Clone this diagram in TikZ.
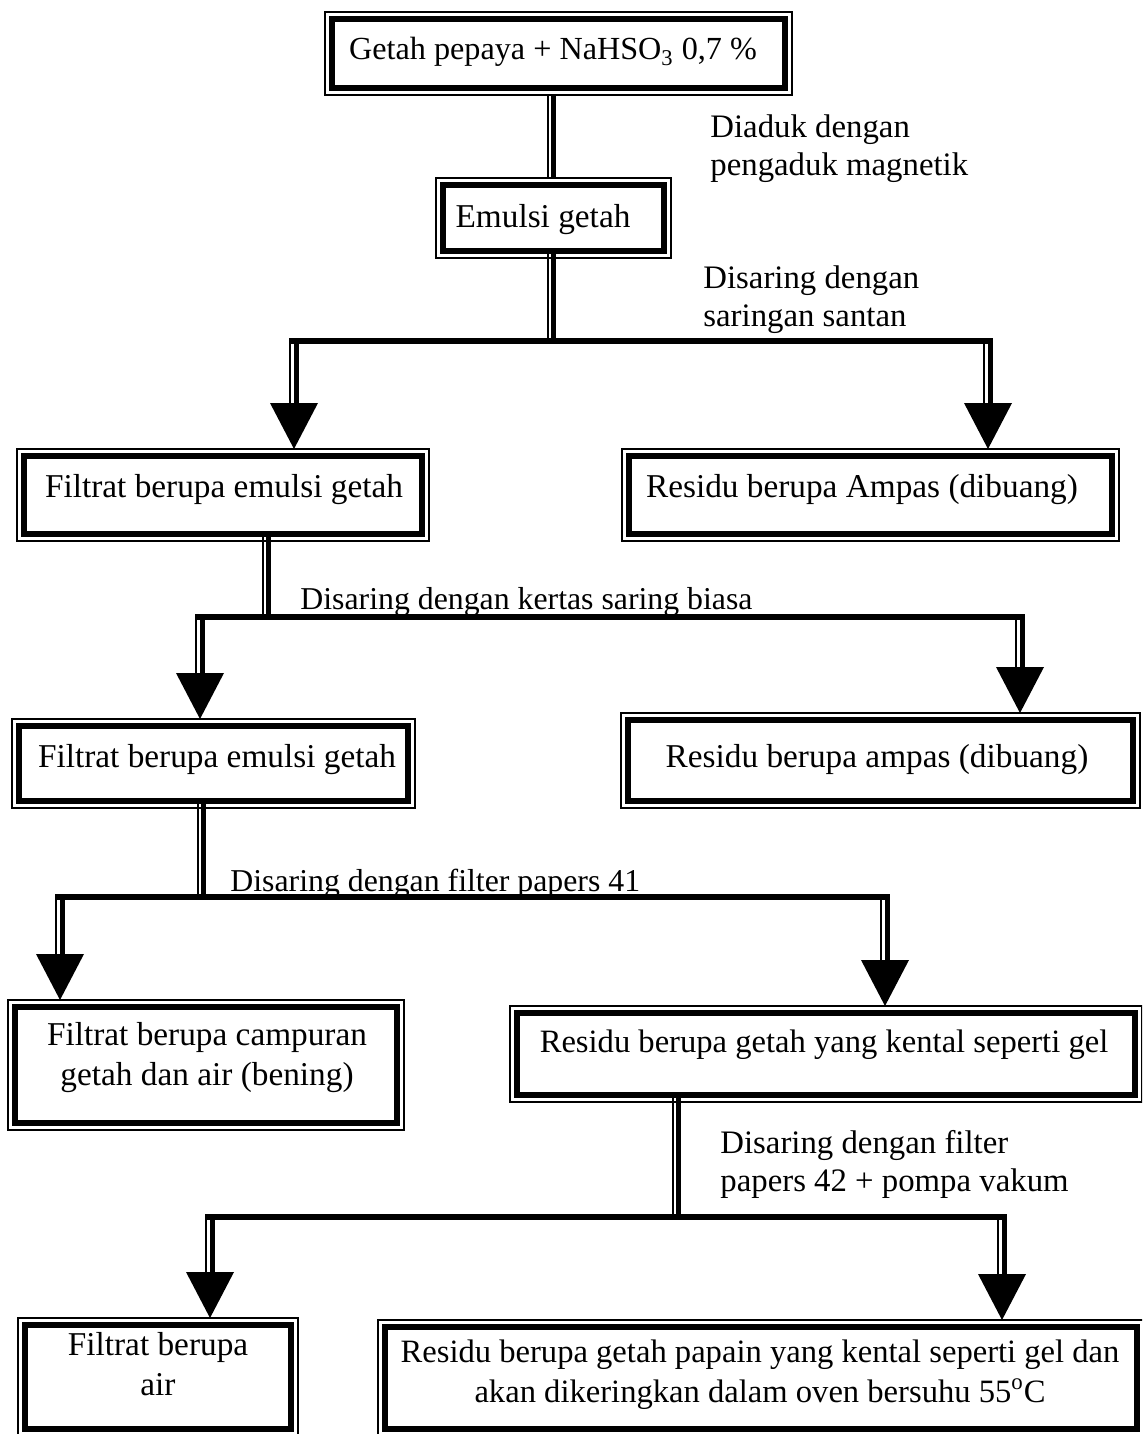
\documentclass[tikz,border=0pt]{standalone}
\usepackage{fontspec}
\setmainfont{Liberation Serif}
\usetikzlibrary{calc}
\newcommand\myobox[1]{\draw[outl] ($(#1.north west)+(-7,-7)$) rectangle ($(#1.south east)+(7,7)$);}
\newcommand\mydrop[2]{%
  \draw[thinl] ($(#1)+(-4,0)$) -- ($(#1 |- #2.north)+(-4,-50)$);
  \draw[thickl] ($(#1)+(2,0)$) -- ($(#1 |- #2.north)+(2,-50)$);
  \fill ($(#1 |- #2.north)+(-24,-53)$) -- ($(#1 |- #2.north)+(24,-53)$) -- ($(#1 |- #2.north)+(0,-7)$) -- cycle;}
\newcommand\mytrunk[2]{%
  \draw[thinl] ($(#2 |- #1.south)+(-2.5,0)$) -- ($(#2)+(-2.5,0)$);
  \draw[thickl] ($(#2 |- #1.south)+(3,0)$) -- ($(#2)+(3,0)$);}
\begin{document}
\begin{tikzpicture}[x=0.5pt,y=-0.5pt,
  box/.style={draw, line width=2.9pt, inner sep=0pt, outer sep=0pt},
  outl/.style={line width=0.9pt},
  txt/.style={font=\fontsize{16.65pt}{20pt}\selectfont, inner sep=0pt},
  txts/.style={font=\fontsize{16.3pt}{20pt}\selectfont, inner sep=0pt},
  lbl/.style={font=\fontsize{16.4pt}{18.8pt}\selectfont, inner sep=0pt, align=left, anchor=base west},
  lbls/.style={font=\fontsize{15.9pt}{19pt}\selectfont, inner sep=0pt, anchor=base west},
  thinl/.style={line width=1pt},
  thickl/.style={line width=2.5pt},
  hbar/.style={line width=3pt}]
\useasboundingbox (0,0) rectangle (1142,1434);
\clip (0,0) rectangle (1142,1434);
% boxes
\node[box, minimum width=226.5pt, minimum height=34.5pt] (b1) at (558.5,53.5) {};
\node[box, minimum width=110.5pt, minimum height=33pt] (b2) at (553.5,218) {};
\node[box, minimum width=199pt, minimum height=39pt] (b3) at (223,495) {};
\node[box, minimum width=241.5pt, minimum height=39pt] (b4) at (870.5,495) {};
\node[box, minimum width=194.5pt, minimum height=37.5pt] (b5) at (213.5,763.5) {};
\node[box, minimum width=252.5pt, minimum height=40.5pt] (b6) at (880.5,760.5) {};
\node[box, minimum width=191pt, minimum height=58pt] (b7) at (206,1065) {};
\node[box, minimum width=309pt, minimum height=41pt] (b8) at (826,1054) {};
\node[box, minimum width=133pt, minimum height=52pt] (b9) at (158,1377) {};
\node[box, minimum width=376pt, minimum height=51pt] (b10) at (761,1378) {};
\foreach \n in {b1,b2,b3,b4,b5,b6,b7,b8,b9,b10} {\myobox{\n}}
% texts
\node[txt, font=\fontsize{16.1pt}{20pt}\selectfont, anchor=base] (t1) at (553,60) {Getah pepaya + NaHSO\textsubscript{3} 0,7 \%};
\node[txt, anchor=base] (t2) at (543,227) {Emulsi getah};
\node[txt, anchor=base] (t3) at (224,497) {Filtrat berupa emulsi getah};
\node[txt, anchor=base] (t4) at (862,497) {Residu berupa Ampas (dibuang)};
\node[txt, anchor=base] (t5) at (217,767) {Filtrat berupa emulsi getah};
\node[txt, anchor=base] (t6) at (877,767) {Residu berupa ampas (dibuang)};
\node[txt, anchor=base, align=center] (t7) at (207,1085) {Filtrat berupa campuran\\getah dan air (bening)};
\node[txts, anchor=base] (t8) at (824,1052) {Residu berupa getah yang kental seperti gel};
\node[txt, anchor=base, align=center] (t9) at (158,1395) {Filtrat berupa\\air};
\node[txts, anchor=base, align=center] (t10) at (760,1402) {Residu berupa getah papain yang kental seperti gel dan\\akan dikeringkan dalam oven bersuhu 55\textsuperscript{o}C};
% labels
\node[lbl] (l1) at (710,175) {Diaduk dengan\\pengaduk magnetik};
\node[lbl] (l2) at (703,326) {Disaring dengan\\saringan santan};
\node[lbls] (l3) at (300,609) {Disaring dengan kertas saring biasa};
\node[lbls] (l4) at (230,891) {Disaring dengan filter papers 41};
\node[lbl] (l5) at (720,1191) {Disaring dengan filter\\papers 42 + pompa vakum};
% junction coordinates
\coordinate (s1) at (550,341);
\coordinate (h1l) at (294,341);
\coordinate (h1r) at (988,341);
\coordinate (s2) at (265,617);
\coordinate (h2l) at (200,617);
\coordinate (h2r) at (1020,617);
\coordinate (s3) at (200,897);
\coordinate (h3l) at (60,897);
\coordinate (h3r) at (885,897);
\coordinate (s4) at (675,1217);
\coordinate (h4l) at (210,1217);
\coordinate (h4r) at (1002,1217);
% b1 -> b2
\draw[thinl] ($(s1 |- b1.south)+(-2.5,7)$) -- ($(s1 |- b2.north)+(-2.5,-7)$);
\draw[thickl] ($(s1 |- b1.south)+(3,7)$) -- ($(s1 |- b2.north)+(3,-7)$);
% trunks
\mytrunk{b2}{s1}
\mytrunk{b3}{s2}
\mytrunk{b5}{s3}
\mytrunk{b8}{s4}
% bars
\draw[hbar] ($(h1l)+(-5,0)$) -- ($(h1r)+(5,0)$);
\draw[hbar] ($(h2l)+(-5,0)$) -- ($(h2r)+(5,0)$);
\draw[hbar] ($(h3l)+(-5,0)$) -- ($(h3r)+(5,0)$);
\draw[hbar] ($(h4l)+(-5,0)$) -- ($(h4r)+(5,0)$);
% drops
\mydrop{h1l}{b3}
\mydrop{h1r}{b4}
\mydrop{h2l}{b5}
\mydrop{h2r}{b6}
\mydrop{h3l}{b7}
\mydrop{h3r}{b8}
\mydrop{h4l}{b9}
\mydrop{h4r}{b10}
\end{tikzpicture}
\end{document}
